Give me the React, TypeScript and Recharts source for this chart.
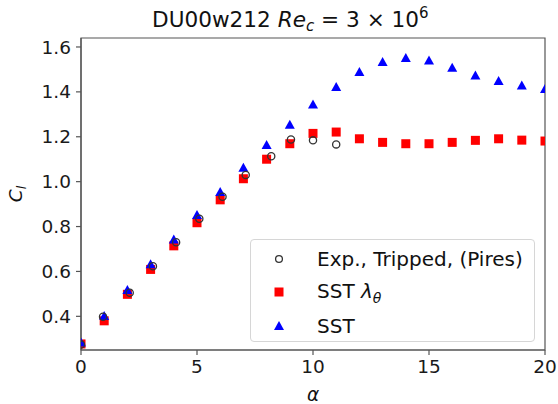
import { CSSProperties } from 'react'
import { Legend, ReferenceArea, Scatter, ScatterChart, XAxis, YAxis } from 'recharts'

// angle of attack (deg) for the two CFD series
const alpha = [0, 1, 2, 3, 4, 5, 6, 7, 8, 9, 10, 11, 12, 13, 14, 15, 16, 17, 18, 19, 20]
const clSst = [0.283, 0.401, 0.517, 0.632, 0.742, 0.851, 0.954, 1.062, 1.163, 1.254, 1.344, 1.422, 1.489,
  1.533, 1.551, 1.540, 1.507, 1.473, 1.448, 1.428, 1.413]
const clSstLambda = [0.277, 0.380, 0.498, 0.609, 0.714, 0.817, 0.919, 1.013, 1.100, 1.169, 1.215, 1.221, 1.191,
  1.175, 1.169, 1.169, 1.175, 1.184, 1.191, 1.185, 1.181]
// experiment (Pires, tripped)
const alphaExp = [0, 0.95, 2.1, 3.1, 4.1, 5.1, 6.1, 7.1, 8.2, 9.05, 10, 11]
const clExp = [0.275, 0.398, 0.505, 0.623, 0.73, 0.835, 0.933, 1.03, 1.113, 1.188, 1.184, 1.166]

const xTicks = [0, 5, 10, 15, 20]
const yTicks = [0.4, 0.6, 0.8, 1.0, 1.2, 1.4, 1.6]

const toPts = (xs: number[], ys: number[]) => xs.map((a, i) => ({a, cl: ys[i]}))
const expData = toPts(alphaExp, clExp)
const lambdaData = toPts(alpha, clSstLambda)
const sstData = toPts(alpha, clSst)

const FONT = '"DejaVu Sans", sans-serif'
const SPINE = '#555'

const Circle = ({cx, cy}: any) => <circle cx={cx} cy={cy} r={3.6} fill="none" stroke="#333" strokeWidth={1.3}/>
const Square = ({cx, cy}: any) => <rect x={cx - 4.5} y={cy - 4.5} width={9} height={9} fill="#ff0000"/>
const Triangle = ({cx, cy}: any) =>
  <polygon points={`${cx},${cy - 5} ${cx - 5},${cy + 4} ${cx + 5},${cy + 4}`} fill="#0000ff"/>

const sLegendBox: CSSProperties = {
  position: 'relative',
  width: 285,
  height: 103,
  boxSizing: 'border-box',
  border: '1px solid #d6d6d6',
  borderRadius: 4,
  background: 'rgba(255,255,255,0.8)',
  fontFamily: FONT,
  fontSize: 20,
  color: '#111',
}

const legendRows = [
  {label: <>Exp., Tripped, (Pires)</>, mark: <circle cx={7} cy={7} r={3.4} fill="none" stroke="#333" strokeWidth={1.3}/>},
  {label: <>SST <i>λ</i><sub style={{fontSize: 14, fontStyle: 'italic'}}>θ</sub></>,
    mark: <rect x={2.5} y={2.5} width={9} height={9} fill="#ff0000"/>},
  {label: <>SST</>, mark: <polygon points="7,2 2,11 12,11" fill="#0000ff"/>},
]

const LegendBox = () => (
  <div style={sLegendBox}>
    {legendRows.map((r, i) => (
      <div key={i} style={{position: 'absolute', left: 0, top: 2 + i * 33.5, height: 33, display: 'flex', alignItems: 'center'}}>
        <svg width={14} height={14} style={{marginLeft: 21, marginRight: 31}}>{r.mark}</svg>
        <span style={{whiteSpace: 'nowrap'}}>{r.label}</span>
      </div>
    ))}
  </div>
)

export default function App() {
  return (
    <div style={{position: 'absolute', left: 0, top: 0, width: 558, height: 404, background: '#fff'}}>
      <ScatterChart width={558} height={404} margin={{top: 38, right: 13, bottom: 14, left: 30}}>
        <XAxis type="number" dataKey="a" domain={[0, 20]} ticks={xTicks} allowDataOverflow height={40}
               tickSize={5} tickMargin={5} stroke={SPINE} strokeWidth={1.2}
               tick={{fill: '#1a1a1a', fontSize: 18.5, fontFamily: FONT}}/>
        <YAxis type="number" dataKey="cl" domain={[0.25, 1.64]} ticks={yTicks} allowDataOverflow width={51}
               tickSize={5} tickMargin={5} stroke={SPINE} strokeWidth={1.2}
               tickFormatter={(v: number) => v.toFixed(1)}
               tick={{fill: '#1a1a1a', fontSize: 18.5, fontFamily: FONT}}/>
        <ReferenceArea x1={0} x2={20} y1={0.25} y2={1.64} fill="none" stroke={SPINE} strokeWidth={1.2} ifOverflow="visible"/>
        <Scatter name="SST λθ" data={lambdaData} shape={Square} isAnimationActive={false}/>
        <Scatter name="SST" data={sstData} shape={Triangle} isAnimationActive={false}/>
        <Scatter name="Exp., Tripped, (Pires)" data={expData} shape={Circle} isAnimationActive={false}/>
        <Legend layout="horizontal" verticalAlign="middle" align="center" content={LegendBox}
                wrapperStyle={{left: 250, top: 239, width: 285, height: 103}}/>
      </ScatterChart>
      <svg width={558} height={404} style={{position: 'absolute', left: 0, top: 0, pointerEvents: 'none'}}
           fontFamily={FONT} fill="#111">
        <text x={152} y={27} fontSize={21.6}>
          DU00w212 <tspan fontStyle="italic">Re</tspan><tspan fontStyle="italic" fontSize={15} dy={4}>c</tspan>
          <tspan dy={-4}> = 3 × 10</tspan><tspan fontSize={15} dy={-9}>6</tspan>
        </text>
        <text transform="translate(22,194) rotate(-90)" textAnchor="middle" fontSize={18.5}>
          <tspan fontStyle="italic">C</tspan><tspan fontStyle="italic" fontSize={13} dy={4}>l</tspan>
        </text>
        <text x={313} y={401} textAnchor="middle" fontSize={18.5} fontStyle="italic">α</text>
      </svg>
    </div>
  )
}
